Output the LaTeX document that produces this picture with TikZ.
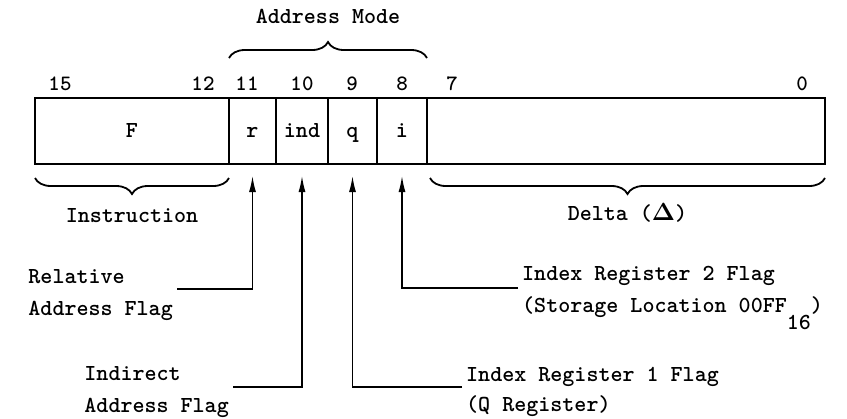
\documentclass[tikz,border=0pt]{standalone}
\usetikzlibrary{arrows.meta,decorations.pathreplacing}
\begin{document}
\begin{tikzpicture}[
    x=1bp, y=-1bp,
    font=\ttfamily\bfseries\fontsize{23}{32}\selectfont,
    field/.style={draw, line width=2.5bp, minimum height=66bp, inner sep=0, outer sep=0,
      text height=15bp, text depth=2bp},
    bitno/.style={anchor=base, inner sep=0, font=\ttfamily\bfseries\fontsize{22}{26}\selectfont},
    flaglbl/.style={align=left, inner sep=0},
    brace/.style={decorate, decoration={brace, amplitude=16bp}, line width=1.8bp},
    lowbrace/.style={brace, decoration={mirror}},
    flag/.style={-{Latex[length=16bp, width=7bp]}, line width=1.4bp,
      shorten >=12bp, shorten <=4bp}
  ]
  \useasboundingbox (0,0) rectangle (847,418);

  \node (F) [field, minimum width=194bp] at (132,131) {F};
  \node (R) [field, minimum width=47bp, anchor=west] at (F.east) {r};
  \node (Ind) [field, minimum width=52bp, anchor=west] at (R.east) {ind};
  \node (Q) [field, minimum width=49bp, anchor=west] at (Ind.east) {q};
  \node (I) [field, minimum width=50bp, anchor=west] at (Q.east) {i};
  \node (Delta) [field, minimum width=398bp, anchor=west] at (I.east) {};

  \foreach \b/\x in {15/60, 12/203, 11/247, 10/302, 9/352, 8/402, 7/452, 0/802}
    \node (Bit\b) [bitno] at (\x,90) {\b};

  \draw[brace] ([yshift=40bp]R.north west) -- ([yshift=40bp]I.north east)
    node (Mode) [midway, above=33bp, inner sep=0] {Address Mode};
  \draw[lowbrace] ([yshift=-14bp]F.south west) -- ([yshift=-14bp]F.south east)
    node (Instr) [midway, below=30bp, inner sep=0] {Instruction};
  \draw[lowbrace] ([xshift=3bp, yshift=-14bp]Delta.south west) -- ([yshift=-14bp]Delta.south east)
    node (DeltaLbl) [midway, below=25bp, inner sep=0] {Delta ($\mathbf{\Delta}$)};

  \node (RelLbl) [flaglbl, anchor=north east] at (173,269) {Relative\\Address Flag};
  \node (IndLbl) [flaglbl, anchor=north east] at (229,366) {Indirect\\Address Flag};
  \node (QLbl) [flaglbl, anchor=north west, font=\ttfamily\bfseries\fontsize{23}{30}\selectfont]
    at (466,367) {Index Register 1 Flag\\(Q Register)};
  \node (ILbl) [flaglbl, anchor=north west] at (522,266)
    {Index Register 2 Flag\\(Storage Location 00FF\raisebox{-17bp}{16})};

  \draw[flag] ([yshift=-20bp]RelLbl.north east) -| (R.south);
  \draw[flag] ([yshift=-21bp]IndLbl.north east) -| (Ind.south);
  \draw[flag] ([yshift=-20bp]QLbl.north west) -| (Q.south);
  \draw[flag] ([yshift=-22bp]ILbl.north west) -| (I.south);
\end{tikzpicture}
\end{document}
